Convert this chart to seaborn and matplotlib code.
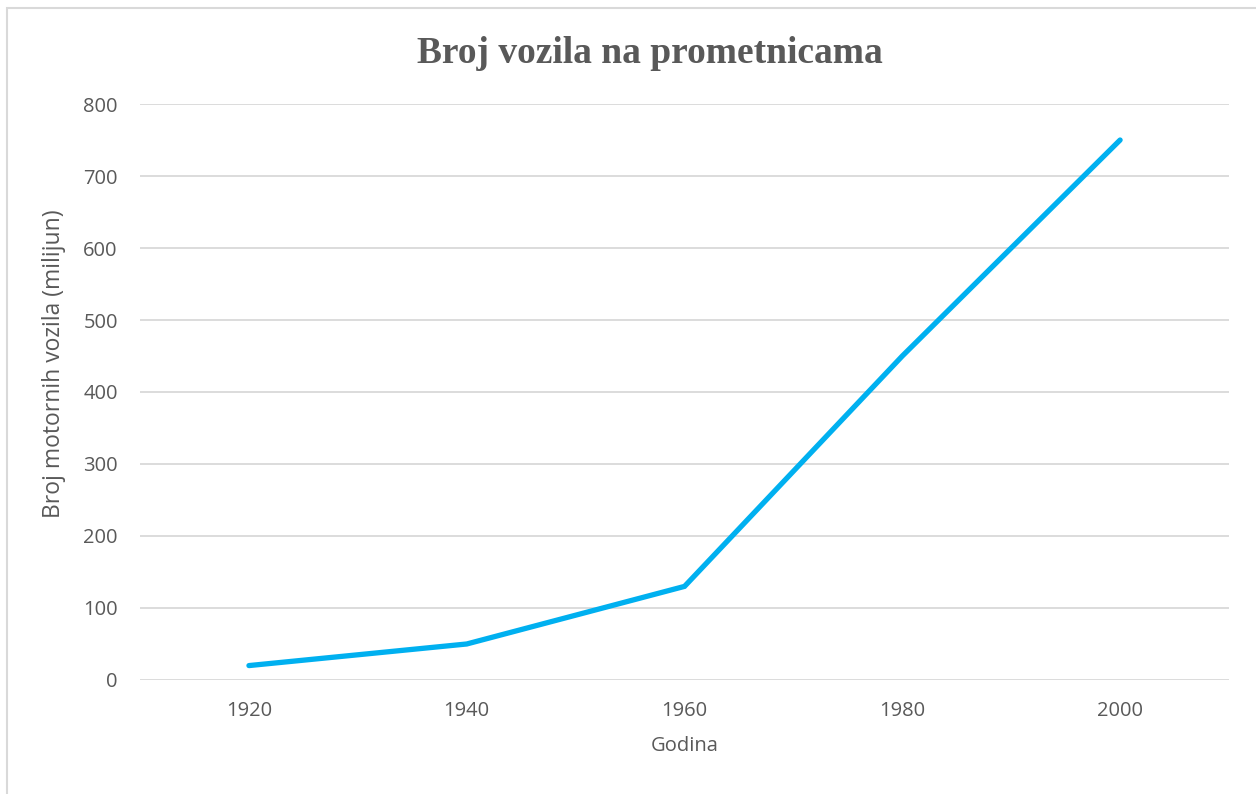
import pandas as pd
import seaborn as sns
from matplotlib import pyplot as plt
from matplotlib.patches import Rectangle

years = ["1920", "1940", "1960", "1980", "2000"]
vehicles = [20, 50, 130, 450, 750]

df = pd.DataFrame({"Godina": years, "Vozila": vehicles})

sns.set_theme(style="white")
plt.rcParams["font.family"] = ["Open Sans", "DejaVu Sans"]

grey = "#595959"
fig = plt.figure(figsize=(12.56, 7.94), dpi=100)
ax = fig.add_axes([0.1115, 0.1436, 0.867, 0.7254])

sns.lineplot(data=df, x="Godina", y="Vozila", ax=ax, color="#00B0F0",
             linewidth=3.8, solid_capstyle="round", solid_joinstyle="miter")

ax.set_ylim(0, 800)
ax.set_xlim(-0.5, len(years) - 0.5)
ax.set_yticks(range(0, 801, 100))
ax.yaxis.grid(True, color="#D9D9D9", linewidth=1.3)
ax.set_axisbelow(True)
for s in ax.spines.values():
    s.set_visible(False)
ax.tick_params(axis="both", length=0, labelsize=14.5, labelcolor=grey)
ax.tick_params(axis="x", pad=15)
ax.tick_params(axis="y", pad=16)

ax.set_xlabel("Godina", fontsize=14.5, color=grey, labelpad=11)
ax.set_ylabel("Broj motornih vozila (milijun)", fontsize=16.5, color=grey,
              va="center")
ax.yaxis.set_label_coords(-0.079, 0.55)

fig.text(650 / 1256, 1 - 63 / 794, "Broj vozila na prometnicama", ha="center",
         va="baseline", fontsize=27, fontweight="bold", color=grey,
         family="Liberation Serif")

fig.patches.append(Rectangle((7 / 1256, -0.05), 1.05, 1 - 8 / 794 + 0.05,
                             transform=fig.transFigure, fill=False,
                             edgecolor="#D9D9D9", linewidth=1.5))

fig.savefig("out.png", dpi=100)
